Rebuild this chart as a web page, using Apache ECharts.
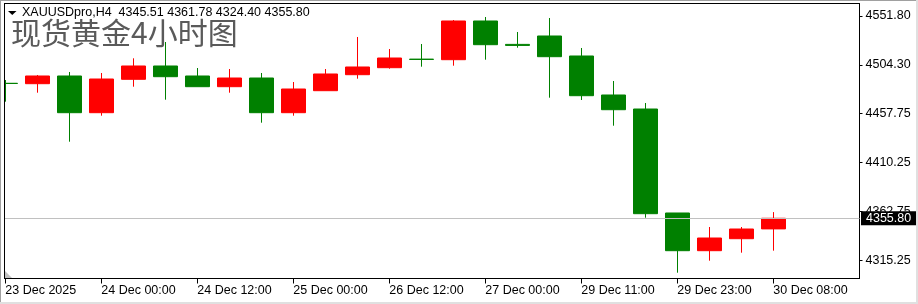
<!DOCTYPE html>
<html><head><meta charset="utf-8">
<script src="https://cdn.jsdelivr.net/npm/echarts@6/dist/echarts.min.js"></script>
<style>html,body{margin:0;padding:0;background:#fff}#c{width:918px;height:304px}</style>
</head><body><div id="c"></div>
<script>
const barIndex = [0,1,2,3,4,5,6,7,8,9,10,11,12,13,14,15,16,17,18,19,20,21,22,23,24];
const opens  = [4486.59,4486.20,4493.66,4458.10,4490.46,4503.35,4493.66,4483.29,4491.72,4458.10,4479.42,4494.92,4501.70,4510.00,4509.46,4546.96,4524.30,4532.42,4513.04,4475.25,4461.68,4360.91,4324.38,4336.00,4345.51];
const closes = [4486.40,4493.66,4458.10,4490.75,4503.35,4492.98,4483.29,4491.72,4458.10,4481.06,4495.60,4502.38,4511.10,4509.70,4546.96,4523.99,4523.30,4512.36,4474.57,4461.00,4360.23,4324.38,4336.68,4345.40,4355.80];
const lows   = [4468.76,4477.48,4430.00,4455.19,4483.29,4470.70,4483.29,4477.48,4448.41,4455.19,4479.42,4491.04,4500.73,4502.67,4503.64,4509.46,4521.08,4472.63,4470.40,4445.50,4356.35,4303.06,4314.69,4322.44,4324.40];
const highs  = [4489.78,4494.63,4497.54,4496.57,4510.81,4526.60,4501.41,4500.44,4496.57,4487.85,4500.44,4531.45,4519.82,4524.67,4547.92,4550.83,4536.30,4549.86,4520.80,4488.80,4467.50,4360.91,4347.34,4347.34,4361.78];
const xTickBars = [0,3,6,9,12,15,18,21,24];
const xTickLabels = ['23 Dec 2025','24 Dec 00:00','24 Dec 12:00','25 Dec 00:00','26 Dec 12:00','27 Dec 00:00','29 Dec 11:00','29 Dec 23:00','30 Dec 08:00'];
const yTickValues = [4551.80,4504.30,4457.75,4410.25,4362.75,4315.25];
const lastPrice = 4355.80;
const headerText = 'XAUUSDpro,H4  4345.51 4361.78 4324.40 4355.80';
const titleText = '现货黄金4小时图';

const FONT = 'Liberation Sans';
const chart = echarts.init(document.getElementById('c'), null, {renderer:'canvas'});
const data = barIndex.map((x,i)=>[x, opens[i], closes[i], lows[i], highs[i]]);

chart.setOption({
  animation:false,
  backgroundColor:'#fff',
  grid:{left:4.5, top:3.5, right:58.5, bottom:25.5, show:true, borderColor:'#000', borderWidth:1, backgroundColor:'#fff'},
  xAxis:{
    type:'value', min:-0.025, max:26.694,
    axisLine:{show:true, onZero:false, lineStyle:{color:'#000', width:1}},
    axisTick:{show:true, customValues:xTickBars, length:5, lineStyle:{color:'#000'}},
    axisLabel:{show:true, customValues:xTickBars, formatter:v=>xTickLabels[xTickBars.indexOf(v)], align:'left', margin:6, color:'#000', fontFamily:FONT, fontSize:12.5},
    splitLine:{show:false}
  },
  yAxis:{
    type:'value', position:'right', min:4297.44, max:4563.91, scale:true,
    axisLine:{show:true, onZero:false, lineStyle:{color:'#000', width:1}},
    axisTick:{show:true, customValues:yTickValues, length:3, lineStyle:{color:'#000'}},
    axisLabel:{show:true, customValues:yTickValues, formatter:v=>Number(v).toFixed(2), margin:6, color:'#000', fontFamily:FONT, fontSize:12.5},
    splitLine:{show:false}
  },
  series:[{
    type:'candlestick',
    data:data,
    encode:{x:0, y:[1,2,3,4]},
    barWidth:24,
    clip:true,
    itemStyle:{color:'#ff0000', color0:'#008000', borderColor:'#ff0000', borderColor0:'#008000', borderWidth:1},
    emphasis:{disabled:true},
    markLine:{
      symbol:'none', silent:true, animation:false,
      data:[{yAxis:lastPrice}],
      lineStyle:{color:'#c0c0c0', type:'solid', width:1},
      emphasis:{disabled:true},
      label:{show:true, position:'end', formatter:lastPrice.toFixed(2), backgroundColor:'#000', color:'#fff', padding:[1,5,1,5], fontFamily:FONT, fontSize:12.5, lineHeight:12, distance:1.5}
    }
  }],
  graphic:[
    {type:'rect', shape:{x:1,y:1,width:3.5,height:301}, style:{fill:'#fff'}, silent:true, z:10},
    {type:'line', shape:{x1:4.5,y1:3,x2:4.5,y2:279}, style:{stroke:'#000', lineWidth:1}, silent:true, z:11},
    {type:'line', shape:{x1:0.5,y1:0,x2:0.5,y2:304}, style:{stroke:'#a0a0a0', lineWidth:1}, silent:true, z:12},
    {type:'line', shape:{x1:0,y1:0.5,x2:918,y2:0.5}, style:{stroke:'#a0a0a0', lineWidth:1}, silent:true, z:12},
    {type:'line', shape:{x1:917,y1:0,x2:917,y2:304}, style:{stroke:'#e0e0e0', lineWidth:2}, silent:true, z:12},
    {type:'line', shape:{x1:0,y1:303,x2:918,y2:303}, style:{stroke:'#e0e0e0', lineWidth:2}, silent:true, z:12},
    {type:'polygon', shape:{points:[[5,271],[5,278],[12,278]]}, style:{fill:'#c0c0c0'}, silent:true, z:50},
    {type:'polygon', shape:{points:[[8,11],[16.5,11],[12.25,15]]}, style:{fill:'#000'}, silent:true, z:100},
    {type:'text', z:100, silent:true, style:{x:22, y:13, text:headerText, font:'12.5px "Liberation Sans"', fill:'#000', verticalAlign:'middle'}},
    {type:'text', z:100, silent:true, style:{x:11, y:33, text:titleText, font:'30px "Noto Sans CJK SC"', fill:'#5a5a5a', verticalAlign:'middle'}}
  ]
});
</script></body></html>
